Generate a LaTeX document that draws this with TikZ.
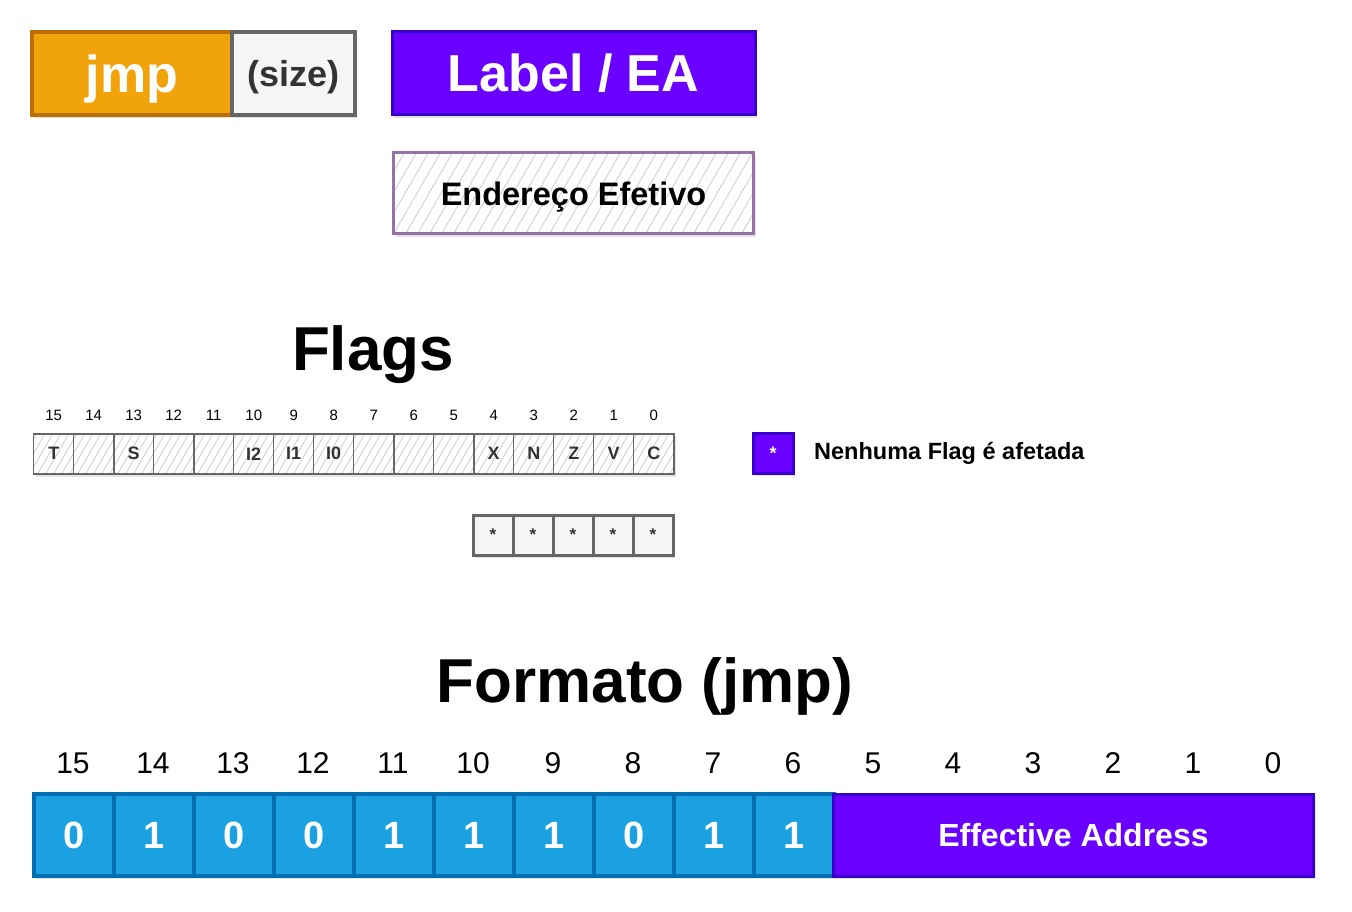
\documentclass[tikz,border=0pt]{standalone}
\usepackage{fontspec}
\setmainfont{Liberation Sans}
\usetikzlibrary{matrix,positioning,shadows,calc}
\definecolor{jmpfill}{HTML}{F0A30A}
\definecolor{jmpline}{HTML}{BD7000}
\definecolor{sizefill}{HTML}{F5F5F5}
\definecolor{sizeline}{HTML}{666666}
\definecolor{sizetext}{HTML}{333333}
\definecolor{eafill}{HTML}{6A00FF}
\definecolor{ealine}{HTML}{3700CC}
\definecolor{purpline}{HTML}{9673A6}
\definecolor{bitfill}{HTML}{1BA1E2}
\definecolor{bitline}{HTML}{006EAF}
\newcommand\fsz[1]{\fontsize{#1}{#1}\selectfont}
\tikzset{
  box/.style={draw, line width=#1, inner sep=0pt, outer sep=0pt, font=\bfseries},
  box/.default=3pt,
  shade/.style={drop shadow={opacity=0.22, shadow xshift=2pt, shadow yshift=-3pt}},
  hatch/.style={fill=white, path picture={
      \foreach \k in {0,...,40}
        \draw[black!20, line width=0.8pt]
          ([xshift=\k*#1-60pt]path picture bounding box.south west) -- ++(60:150pt);}},
  hatch/.default=12pt,
  reg/.style={matrix of nodes, nodes in empty cells, inner sep=0pt, outer sep=0pt,
    row sep=0pt, nodes={anchor=center, #1}},
  flagcell/.style={box=1.5pt, draw=black!60, hatch=8pt, text=sizetext,
    minimum width=40pt, minimum height=40pt, font=\bfseries\fsz{18}, shade},
  starcell/.style={box=3pt, draw=sizeline, fill=sizefill, text=sizetext,
    minimum width=40pt, minimum height=40pt, font=\bfseries\fsz{17}, shade},
  bitcell/.style={box=4pt, draw=bitline, fill=bitfill, text=white,
    minimum width=80pt, minimum height=82pt, font=\bfseries\fsz{38}, shade},
  eacell/.style={box=3pt, draw=ealine, fill=eafill, text=white,
    minimum width=480pt, minimum height=82pt, font=\bfseries\fsz{32}},
  title/.style={font=\bfseries\fsz{62}, inner sep=0pt},
  fnum/.style={font=\fsz{15}, inner sep=0pt},
  bnum/.style={font=\fsz{30}, inner sep=0pt},
}

\begin{document}
\begin{tikzpicture}[x=1pt, y=-1pt]
\useasboundingbox (0,0) rectangle (1352,912);

% ===== instruction =====
\node[box=4pt, fill=jmpfill, draw=jmpline, text=white, minimum width=200pt,
  minimum height=83pt, font=\bfseries\fsz{52}, text depth=0pt, anchor=north west, shade] (jmp) at (32,32) {jmp};
\node[box=4pt, fill=sizefill, draw=sizeline, text=sizetext, minimum width=123pt,
  minimum height=83pt, font=\bfseries\fsz{36}, text depth=0pt, right=0pt of jmp, shade] (size) {(size)};
\node[box=3pt, fill=eafill, draw=ealine, text=white, minimum width=363pt,
  minimum height=83pt, font=\bfseries\fsz{52}, anchor=north west, shade] (ea) at (392,32) {Label / EA};
\node[box=3pt, draw=purpline, hatch, minimum width=360pt, minimum height=81pt,
  font=\bfseries\fsz{32.5}, text depth=0pt, below=38pt of ea, shade] (endef) {Endereço Efetivo};

% ===== flags =====
\node[title] (flagstitle) at (373,355) {Flags};
\matrix[reg=flagcell, column sep=-1.5pt, anchor=north west] (flags) at (33,433)
  { T & & S & & & I2 & I1 & I0 & & & & X & N & Z & V & C \\ };
\foreach \b [count=\c] in {15,...,0}
  \node[fnum, above=13pt of flags-1-\c] (fn\b) {\b};

\matrix[reg=starcell, column sep=-3pt, anchor=north east] (stars)
  at ([yshift=-39pt]flags.south east) { * & * & * & * & * \\ };

\node[box=3pt, fill=eafill, draw=ealine, text=white, minimum width=40pt,
  minimum height=40pt, font=\bfseries\fsz{18}, shade] (legbox) at (773,453) {*};
\node[font=\bfseries\fsz{23.5}, inner sep=0pt, right=21pt of legbox] (legtext) {Nenhuma Flag é afetada};

% ===== format =====
\node[title] (fmttitle) at (645,686) {Formato (jmp)};
\matrix[reg=bitcell, column sep=-4pt, anchor=north west] (fmt) at (32,792)
  { 0 & 1 & 0 & 0 & 1 & 1 & 1 & 0 & 1 & 1 & |[eacell]| Effective Address \\ };
\foreach \b [count=\i from 0] in {15,...,0}
  \node[bnum] (bn\b) at (73+80*\i,763) {\b};

\end{tikzpicture}
\end{document}
